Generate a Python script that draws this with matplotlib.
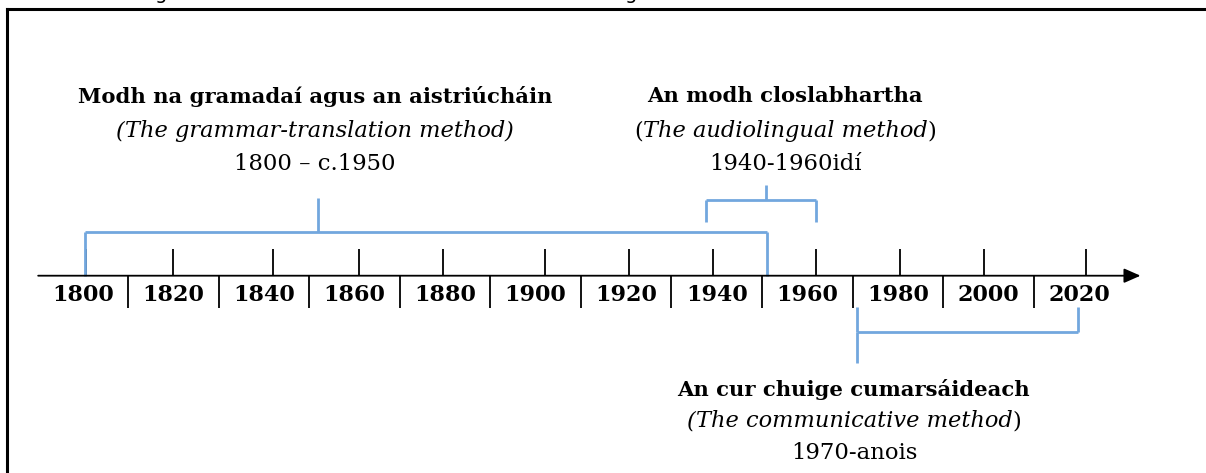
import matplotlib
matplotlib.use('Agg')
import matplotlib.pyplot as plt
from matplotlib.lines import Line2D
from matplotlib.offsetbox import TextArea, HPacker, AnnotationBbox

# timeline data
decades = [1800, 1820, 1840, 1860, 1880, 1900, 1920, 1940, 1960, 1980, 2000, 2020]
tick_marks = [1800.7, 1819.9, 1842.0, 1861.0, 1879.5, 1902.0, 1920.6, 1939.2, 1961.9, 1980.5, 1999.0, 2021.6]
separators = [1810, 1830, 1850, 1870, 1890, 1910, 1930, 1950, 1970, 1990, 2010]

period_names = ['Modh na gramadaí agus an aistriúcháin', 'An modh closlabhartha', 'An cur chuige cumarsáideach']
period_english = ['The grammar-translation method', 'The audiolingual method', 'The communicative method']
period_dates = ['1800 – c.1950', '1940-1960idí', '1970-anois']
period_start = [1800.4, 1937.6, 1971.0]
period_end = [1951.1, 1961.9, 2019.8]
period_stem = [1852.0, 1950.8, 1971.0]
label_center = [1851.2, 1955.1, 1970.3]

FONT = 'DejaVu Serif'
BLUE = '#72a7de'

fig = plt.figure(figsize=(12.06, 4.73), dpi=100)
ax = fig.add_axes([0, 0, 1, 1])
ax.set_xlim(1781.67, 2048.07)
ax.set_ylim(473, 0)
ax.axis('off')

# frame (cut off at right and bottom), with bits of a caption above it
fig.add_artist(Line2D([7/1206, 7/1206], [0, 1 - 9.5/473], color='black', lw=2.2))
fig.add_artist(Line2D([7/1206, 1], [1 - 9.5/473, 1 - 9.5/473], color='black', lw=2.2))
for gx in [161, 631]:
    fig.text(gx/1206, 1 + 1.5/473, 'g', ha='center', va='baseline', fontsize=14)

# main axis with arrow
axis_y = 275.7
ax.annotate('', xy=(2033.6, axis_y), xytext=(1790.1, axis_y),
            arrowprops=dict(arrowstyle='-|>,head_length=0.5,head_width=0.22',
                            mutation_scale=20, color='black', lw=1.3, shrinkA=0, shrinkB=0))
ax.vlines(tick_marks, 249.3, axis_y, color='black', lw=1.3)
ax.vlines(separators, axis_y, 308.3, color='black', lw=1.3)
for d in decades:
    ax.text(d, 295, str(d), ha='center', va='center', family=FONT, fontweight='bold', fontsize=16)

# brackets
layout = [
    # bar y, leg end y, stem end y
    (232, axis_y, 198),
    (200, 222, 185),
    (332, 307, 363),
]
for i, (bar_y, leg_y, stem_y) in enumerate(layout):
    ax.hlines(bar_y, period_start[i], period_end[i], color=BLUE, lw=2)
    ax.vlines([period_start[i], period_end[i]], bar_y, leg_y, color=BLUE, lw=2)
    ax.vlines(period_stem[i], bar_y, stem_y, color=BLUE, lw=2)

# labels
text_rows = [(96, 131, 164), (96, 131, 164), (389, 421, 453)]
paren_styles = [('italic', 'italic'), ('normal', 'normal'), ('italic', 'normal')]
FS_B, FS_I, FS_R = 15.2, 16.2, 16.4

def put(box, x, y):
    ab = AnnotationBbox(box, (x, y), xycoords='data', frameon=False,
                        box_alignment=(0.5, 0.5), pad=0)
    ax.add_artist(ab)

for i in range(3):
    y1, y2, y3 = text_rows[i]
    x = label_center[i]
    ax.text(x, y1, period_names[i], ha='center', va='center',
            family=FONT, fontweight='bold', fontsize=FS_B)
    lp, rp = paren_styles[i]
    parts = [TextArea('(', textprops=dict(family=FONT, style=lp, fontsize=FS_I)),
             TextArea(period_english[i], textprops=dict(family=FONT, style='italic', fontsize=FS_I)),
             TextArea(')', textprops=dict(family=FONT, style=rp, fontsize=FS_I))]
    put(HPacker(children=parts, sep=0, pad=0, align='baseline'), x, y2)
    ax.text(x, y3, period_dates[i], ha='center', va='center',
            family=FONT, fontsize=FS_R)

fig.savefig('out.png', dpi=100)
